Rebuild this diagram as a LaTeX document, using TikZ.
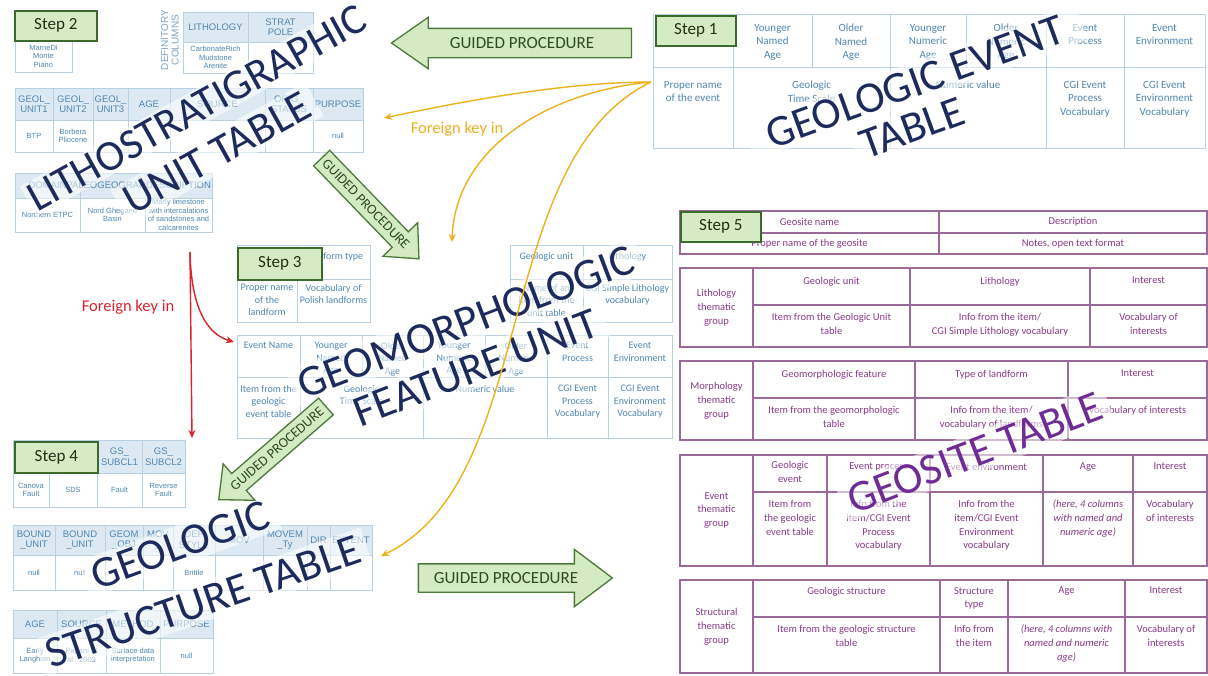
\documentclass[tikz,border=0pt]{standalone}
\usepackage{fontspec}
\setmainfont{Carlito}
\newfontfamily\arialfam{Liberation Sans}
\usetikzlibrary{shapes.arrows,arrows.meta}

\definecolor{titlenavy}{HTML}{1C2A5C}
\definecolor{geopurple}{HTML}{6E2C94}
\definecolor{cellpurple}{HTML}{9A6A9A}
\definecolor{txtpurple}{HTML}{8A3A8A}
\definecolor{cellblue}{HTML}{B8D1E2}
\definecolor{txtblue}{HTML}{4F87B3}
\definecolor{headblue}{HTML}{DCE9F2}
\definecolor{stepfill}{HTML}{D5EBC4}
\definecolor{stepline}{HTML}{3C6A2C}
\definecolor{steptext}{HTML}{1E3214}
\definecolor{arrowfill}{HTML}{D3EAC3}
\definecolor{arrowline}{HTML}{4C7A3A}
\definecolor{arrowtext}{HTML}{2D4C22}
\definecolor{fkyellow}{HTML}{EDB21C}
\definecolor{fkred}{HTML}{D8242B}

% table cell with centred text: style prefix, name, x1, y1, x2, y2, text
\newcommand\cellc[7]{%
  \draw[#1box] (#3,#4) rectangle (#5,#6);
  \node[#1txt] (#2) at ({(#3+#5)/2},{(#4+#6)/2}) {#7};}
% table cell with text hanging from the top: prefix, name, x1, y1, x2, y2, pad, text
\newcommand\cellt[8]{%
  \draw[#1box] (#3,#4) rectangle (#5,#6);
  \node[#1txt,anchor=north] (#2) at ({(#3+#5)/2},{#4+#7}) {#8};}

\begin{document}
\begin{tikzpicture}[x=1pt,y=-1pt,
  lbbox/.style={draw=cellblue,line width=0.9pt},
  lbtxt/.style={font=\arialfam\fontsize{7.5}{8.6}\selectfont,text=txtblue,align=center,inner sep=0pt},
  lhbox/.style={draw=cellblue,fill=headblue,line width=0.9pt},
  lhtxt/.style={font=\arialfam\fontsize{9.5}{10.5}\selectfont,text=txtblue,align=center,inner sep=0pt},
  cbbox/.style={draw=cellblue,line width=0.9pt},
  cbtxt/.style={font=\fontsize{11}{13.5}\selectfont,text=txtblue,align=center,inner sep=0pt},
  csbox/.style={draw=cellblue,line width=0.9pt},
  cstxt/.style={font=\fontsize{10}{12.5}\selectfont,text=txtblue,align=center,inner sep=0pt},
  pubox/.style={draw=cellpurple,line width=1.1pt},
  putxt/.style={font=\fontsize{10.5}{13.8}\selectfont,text=txtpurple,align=center,inner sep=0pt},
  stepbox/.style={draw=stepline,fill=stepfill,line width=1.6pt,font=\fontsize{17}{18}\selectfont,
    text=steptext,inner sep=0pt,anchor=north west},
  title/.style={font=\fontsize{44}{44}\selectfont,text=titlenavy,fill=white,fill opacity=0.55,
    text opacity=1,inner xsep=8pt,inner ysep=5pt},
  guided/.style={single arrow,draw=arrowline,fill=arrowfill,line width=1.3pt,text=arrowtext,
    single arrow head indent=0pt,inner xsep=2pt,text depth=0pt},
  fky/.style={draw=fkyellow,line width=1.4pt,-{Stealth[length=8pt,width=7pt]}},
  fkr/.style={draw=fkred,line width=1.4pt,-{Stealth[length=8pt,width=7pt]}},
  fktext/.style={font=\fontsize{16.5}{17}\selectfont,inner sep=1pt},
]
\fill[white] (0,0) rectangle (1208,675);
\useasboundingbox (0,0) rectangle (1208,675);

% ---------- lithostratigraphic unit table (step 2) ----------
\cellc{lh}{mdhead}{15}{10}{72}{40}{}
\cellc{lb}{mdbody}{15}{40}{72}{72}{MarneDi\\Monte\\Piano}
\node[font=\arialfam\fontsize{10}{10.5}\selectfont,text=txtblue!75,align=center,rotate=90,inner sep=0pt]
  (defcols) at (170,40) {DEFINITORY\\COLUMNS};
\cellc{lh}{lithohd}{183}{12}{248}{42}{LITHOLOGY}
\cellc{lh}{strathd}{248}{12}{313}{42}{STRAT\\POLE}
\cellc{lb}{lithobd}{183}{42}{248}{73}{CarbonateRich\\Mudstone\\Arenite}
\cellc{lb}{stratbd}{248}{42}{313}{73}{}

\cellc{lh}{guA}{15}{88}{53}{120}{GEOL\_\\UNIT1}
\cellc{lh}{guB}{53}{88}{93}{120}{GEOL\_\\UNIT2}
\cellc{lh}{guC}{93}{88}{128}{120}{GEOL\_\\UNIT3}
\cellc{lh}{guage}{128}{88}{170}{120}{AGE}
\cellc{lh}{gusrc}{170}{88}{265}{120}{SOURCE}
\cellc{lh}{gustat}{265}{88}{313}{120}{ORIG\_\\STATUS}
\cellc{lh}{gupurp}{313}{88}{363}{120}{PURPOSE}
\cellc{lb}{gubA}{15}{120}{53}{152}{BTP}
\cellc{lb}{gubB}{53}{120}{93}{152}{Borbera\\Pliocene}
\cellc{lb}{gubC}{93}{120}{128}{152}{}
\cellc{lb}{gubage}{128}{120}{170}{152}{}
\cellc{lb}{gubsrc}{170}{120}{265}{152}{}
\cellc{lb}{gubstat}{265}{120}{313}{152}{}
\cellc{lb}{gubpurp}{313}{120}{363}{152}{null}

\cellc{lh}{domhd}{15}{173}{80}{198}{DOMAIN}
\cellc{lh}{palhd}{80}{173}{145}{198}{PALEOGEOGRAPHY}
\cellc{lh}{deschd}{145}{173}{212}{198}{DESCRIPTION}
\cellc{lb}{dombd}{15}{198}{80}{232}{Northern ETPC}
\cellc{lb}{palbd}{80}{198}{145}{232}{Nord Ghegano\\Basin}
\cellc{lb}{descbd}{145}{198}{212}{232}{Marly limestone\\with intercalations\\of sandstones and\\calcarenites}

% ---------- geologic event table (step 1) ----------
\cellt{cb}{evh1}{653}{14}{733}{67}{10}{}
\cellt{cb}{evh2}{733}{14}{812}{67}{10}{Younger\\Named\\Age}
\cellt{cb}{evh3}{812}{14}{890}{67}{10}{Older\\Named\\Age}
\cellt{cb}{evh4}{890}{14}{966}{67}{10}{Younger\\Numeric\\Age}
\cellt{cb}{evh5}{966}{14}{1046}{67}{10}{Older\\Numeric\\Age}
\cellt{cb}{evh6}{1046}{14}{1124}{67}{10}{Event\\Process}
\cellt{cb}{evh7}{1124}{14}{1205}{67}{10}{Event\\Environment}
\cellt{cb}{evb1}{653}{67}{733}{148}{14}{Proper name\\of the event}
\cellt{cb}{evb23}{733}{67}{890}{148}{14}{Geologic\\Time Scale}
\cellt{cb}{evb45}{890}{67}{1046}{148}{14}{Numeric value}
\cellt{cb}{evb6}{1046}{67}{1124}{148}{14}{CGI Event\\Process\\Vocabulary}
\cellt{cb}{evb7}{1124}{67}{1205}{148}{14}{CGI Event\\Environment\\Vocabulary}

% ---------- geomorphologic feature unit (step 3) ----------
\cellt{cs}{lfh1}{237}{245}{297}{279}{7}{}
\cellt{cs}{lfh2}{297}{245}{370}{279}{7}{Landform type}
\cellt{cs}{lfb1}{237}{279}{297}{322}{5}{Proper name\\of the\\landform}
\cellt{cs}{lfb2}{297}{279}{370}{322}{5}{Vocabulary of\\Polish landforms}

\cellt{cs}{gmh1}{510}{245}{583}{279}{7}{Geologic unit}
\cellt{cs}{gmh2}{583}{245}{672}{279}{7}{Lithology}
\cellt{cs}{gmb1}{510}{279}{583}{322}{5}{Name of an\\item from the\\unit table}
\cellt{cs}{gmb2}{583}{279}{672}{322}{5}{CGI Simple Lithology\\vocabulary}

\cellt{cs}{geh1}{237}{335}{300}{377}{7}{Event Name}
\cellt{cs}{geh2}{300}{335}{362}{377}{7}{Younger\\Named\\Age}
\cellt{cs}{geh3}{362}{335}{423}{377}{7}{Older\\Named\\Age}
\cellt{cs}{geh4}{423}{335}{485}{377}{7}{Younger\\Numeric\\Age}
\cellt{cs}{geh5}{485}{335}{547}{377}{7}{Older\\Numeric\\Age}
\cellt{cs}{geh6}{547}{335}{608}{377}{7}{Event\\Process}
\cellt{cs}{geh7}{608}{335}{672}{377}{7}{Event\\Environment}
\cellt{cs}{geb1}{237}{377}{300}{438}{8}{Item from the\\geologic\\event table}
\cellt{cs}{geb23}{300}{377}{423}{438}{8}{Geologic\\Time Scale}
\cellt{cs}{geb45}{423}{377}{547}{438}{8}{Numeric value}
\cellt{cs}{geb6}{547}{377}{608}{438}{8}{CGI Event\\Process\\Vocabulary}
\cellt{cs}{geb7}{608}{377}{672}{438}{8}{CGI Event\\Environment\\Vocabulary}

% ---------- geologic structure table (step 4) ----------
\cellc{lh}{gshA}{13}{440}{49}{473}{}
\cellc{lh}{gshB}{49}{440}{97}{473}{}
\cellc{lh}{gshC}{97}{440}{142}{473}{GS\_\\SUBCL1}
\cellc{lh}{gshD}{142}{440}{185}{473}{GS\_\\SUBCL2}
\cellc{lb}{gsbA}{13}{473}{49}{507}{Canova\\Fault}
\cellc{lb}{gsbB}{49}{473}{97}{507}{SDS}
\cellc{lb}{gsbC}{97}{473}{142}{507}{Fault}
\cellc{lb}{gsbD}{142}{473}{185}{507}{Reverse\\Fault}

\cellc{lh}{bdhA}{13}{525}{55}{555}{BOUND\\\_UNIT}
\cellc{lh}{bdhB}{55}{525}{105}{555}{BOUND\\\_UNIT}
\cellc{lh}{bdhC}{105}{525}{143}{555}{GEOM\\\_OBJ}
\cellc{lh}{bdhD}{143}{525}{173}{555}{MOV\\\_}
\cellc{lh}{bdhE}{173}{525}{215}{555}{DEF\\STYLE}
\cellc{lh}{bdhF}{215}{525}{263}{555}{MOV}
\cellc{lh}{bdhG}{263}{525}{307}{555}{MOVEM\\\_Ty}
\cellc{lh}{bdhH}{307}{525}{330}{555}{DIR}
\cellc{lh}{bdhI}{330}{525}{372}{555}{EXTENT}
\cellc{lb}{bdbA}{13}{555}{55}{590}{null}
\cellc{lb}{bdbB}{55}{555}{105}{590}{null}
\cellc{lb}{bdbC}{105}{555}{143}{590}{}
\cellc{lb}{bdbD}{143}{555}{173}{590}{}
\cellc{lb}{bdbE}{173}{555}{215}{590}{Brittle}
\cellc{lb}{bdbF}{215}{555}{263}{590}{}
\cellc{lb}{bdbG}{263}{555}{307}{590}{}
\cellc{lb}{bdbH}{307}{555}{330}{590}{}
\cellc{lb}{bdbI}{330}{555}{372}{590}{}

\cellc{lh}{aghA}{13}{610}{57}{638}{AGE}
\cellc{lh}{aghB}{57}{610}{106}{638}{SOURCE}
\cellc{lh}{aghC}{106}{610}{160}{638}{METHOD}
\cellc{lh}{aghD}{160}{610}{213}{638}{PURPOSE}
\cellc{lb}{agbA}{13}{638}{57}{673}{Early\\Langhian}
\cellc{lb}{agbB}{57}{638}{106}{673}{Papani et\\al., 2003}
\cellc{lb}{agbC}{106}{638}{160}{673}{Surface data\\interpretation}
\cellc{lb}{agbD}{160}{638}{213}{673}{null}

% ---------- geosite table (step 5) ----------
\cellc{pu}{gsnh}{680}{211}{939}{233}{Geosite name}
\cellc{pu}{gsdh}{939}{211}{1207}{233}{Description}
\cellc{pu}{gsnb}{680}{233}{939}{254}{Proper name of the geosite}
\cellc{pu}{gsdb}{939}{233}{1207}{254}{Notes, open text format}

\cellc{pu}{litg}{680}{268}{753}{347}{Lithology\\thematic\\group}
\cellt{pu}{lith1}{753}{268}{910}{305}{9}{Geologic unit}
\cellt{pu}{lith2}{910}{268}{1090}{305}{9}{Lithology}
\cellt{pu}{lith3}{1090}{268}{1207}{305}{9}{Interest}
\cellt{pu}{litb1}{753}{305}{910}{347}{8}{Item from the Geologic Unit\\table}
\cellt{pu}{litb2}{910}{305}{1090}{347}{8}{Info from the item/\\CGI Simple Lithology vocabulary}
\cellt{pu}{litb3}{1090}{305}{1207}{347}{8}{Vocabulary of\\interests}

\cellc{pu}{morg}{680}{361}{753}{440}{Morphology\\thematic\\group}
\cellt{pu}{morh1}{753}{361}{915}{398}{9}{Geomorphologic feature}
\cellt{pu}{morh2}{915}{361}{1068}{398}{9}{Type of landform}
\cellt{pu}{morh3}{1068}{361}{1207}{398}{9}{Interest}
\cellt{pu}{morb1}{753}{398}{915}{440}{8}{Item from the geomorphologic\\table}
\cellt{pu}{morb2}{915}{398}{1068}{440}{8}{Info from the item/\\vocabulary of landforms}
\cellt{pu}{morb3}{1068}{398}{1207}{440}{8}{Vocabulary of interests}

\cellc{pu}{evtg}{680}{455}{753}{566}{Event\\thematic\\group}
\cellt{pu}{evth1}{753}{455}{827}{492}{6}{Geologic\\event}
\cellt{pu}{evth2}{827}{455}{930}{492}{8}{Event process}
\cellt{pu}{evth3}{930}{455}{1043}{492}{8}{Event environment}
\cellt{pu}{evth4}{1043}{455}{1133}{492}{8}{Age}
\cellt{pu}{evth5}{1133}{455}{1207}{492}{8}{Interest}
\cellt{pu}{evtb1}{753}{492}{827}{566}{8}{Item from\\the geologic\\event table}
\cellt{pu}{evtb2}{827}{492}{930}{566}{8}{Info from the\\item/CGI Event\\Process\\vocabulary}
\cellt{pu}{evtb3}{930}{492}{1043}{566}{8}{Info from the\\item/CGI Event\\Environment\\vocabulary}
\cellt{pu}{evtb4}{1043}{492}{1133}{566}{8}{\itshape (here, 4 columns\\\itshape with named and\\\itshape numeric age)}
\cellt{pu}{evtb5}{1133}{492}{1207}{566}{8}{Vocabulary\\of interests}

\cellc{pu}{strg}{680}{580}{753}{673}{Structural\\thematic\\group}
\cellt{pu}{strh1}{753}{580}{940}{617}{7}{Geologic structure}
\cellt{pu}{strh2}{940}{580}{1008}{617}{7}{Structure\\type}
\cellt{pu}{strh3}{1008}{580}{1125}{617}{7}{Age}
\cellt{pu}{strh4}{1125}{580}{1207}{617}{7}{Interest}
\cellt{pu}{strb1}{753}{617}{940}{673}{8}{Item from the geologic structure\\table}
\cellt{pu}{strb2}{940}{617}{1008}{673}{8}{Info from\\the item}
\cellt{pu}{strb3}{1008}{617}{1125}{673}{8}{\itshape (here, 4 columns with\\\itshape named and numeric\\\itshape age)}
\cellt{pu}{strb4}{1125}{617}{1207}{673}{8}{Vocabulary of\\interests}

% ---------- big table titles ----------
\node[title,rotate=29,font=\fontsize{43}{43}\selectfont,inner xsep=3pt,inner ysep=3pt] (lithoA) at (197,108) {LITHOSTRATIGRAPHIC};
\node[title,rotate=29] (lithoB) at (217,153) {UNIT TABLE};
\node[title,rotate=20,inner xsep=20pt] (eventA) at (915,82) {GEOLOGIC EVENT};
\node[title,rotate=20] (eventB) at (912,128) {TABLE};
\node[title,rotate=21] (geomA) at (466,322) {GEOMORPHOLOGIC};
\node[title,rotate=21] (geomB) at (476,368) {FEATURE UNIT};
\node[title,rotate=20] (structA) at (180,545) {GEOLOGIC};
\node[title,rotate=19] (structB) at (203,602) {STRUCTURE TABLE};
\node[title,rotate=21,text=geopurple] (geosite) at (975,453) {GEOSITE TABLE};

% ---------- guided procedure arrows ----------
\node[guided,shape border rotate=180,minimum height=240pt,single arrow head extend=11pt,
  single arrow tip angle=70,font=\fontsize{17}{17}\selectfont,text height=11pt,
  inner ysep=8.5pt] (gptop) at (522,43) {GUIDED PROCEDURE};
\node[guided,rotate=-46,minimum height=140pt,single arrow head extend=13pt,
  single arrow tip angle=84,font=\fontsize{14}{14}\selectfont,text height=9pt,
  inner ysep=6pt] (gpdown) at (366,204) {GUIDED PROCEDURE};
\node[guided,rotate=41,shape border rotate=180,minimum height=142pt,single arrow head extend=13pt,
  single arrow tip angle=84,font=\fontsize{14}{14}\selectfont,text height=9pt,
  inner ysep=6pt] (gpleft) at (277,449) {GUIDED PROCEDURE};
\node[guided,minimum height=194pt,single arrow head extend=14.5pt,
  single arrow tip angle=74,font=\fontsize{17}{17}\selectfont,text height=11pt,
  inner ysep=8pt] (gpright) at (506,578) {GUIDED PROCEDURE};

% ---------- step labels ----------
\node[stepbox,minimum width=82pt,minimum height=30pt] (step2) at (14,10) {Step 2};
\node[stepbox,minimum width=80pt,minimum height=30pt] (step1) at (655,15) {Step 1};
\node[stepbox,minimum width=84pt,minimum height=32pt] (step3) at (237,247) {Step 3};
\node[stepbox,minimum width=83pt,minimum height=31pt] (step4) at (14,441) {Step 4};
\node[stepbox,minimum width=80pt,minimum height=30pt] (step5) at (680,211) {Step 5};

% ---------- foreign keys ----------
\coordinate (evkey) at (651,82);
\coordinate (fkLitho) at (384,118);
\coordinate (fkGeom) at (452,242);
\coordinate (fkStruct) at (381,556);
\draw[fky] (evkey) .. controls (560,82) and (450,104) .. (fkLitho);
\draw[fky] (evkey) .. controls (545,92) and (455,150) .. (fkGeom);
\draw[fky] (evkey) .. controls (490,160) and (540,480) .. (fkStruct);
\node[fktext,text=fkyellow] (fkytext) at (457,129) {Foreign key in};

\coordinate (lithokey) at (190,252);
\coordinate (fkStep4) at (192,438);
\coordinate (fkStep3) at (234,342);
\draw[fkr] (lithokey) -- (fkStep4);
\draw[fkr] (lithokey) .. controls (191,300) and (203,333) .. (fkStep3);
\node[fktext,text=fkred] (fkrtext) at (128,307) {Foreign key in};
\end{tikzpicture}
\end{document}
